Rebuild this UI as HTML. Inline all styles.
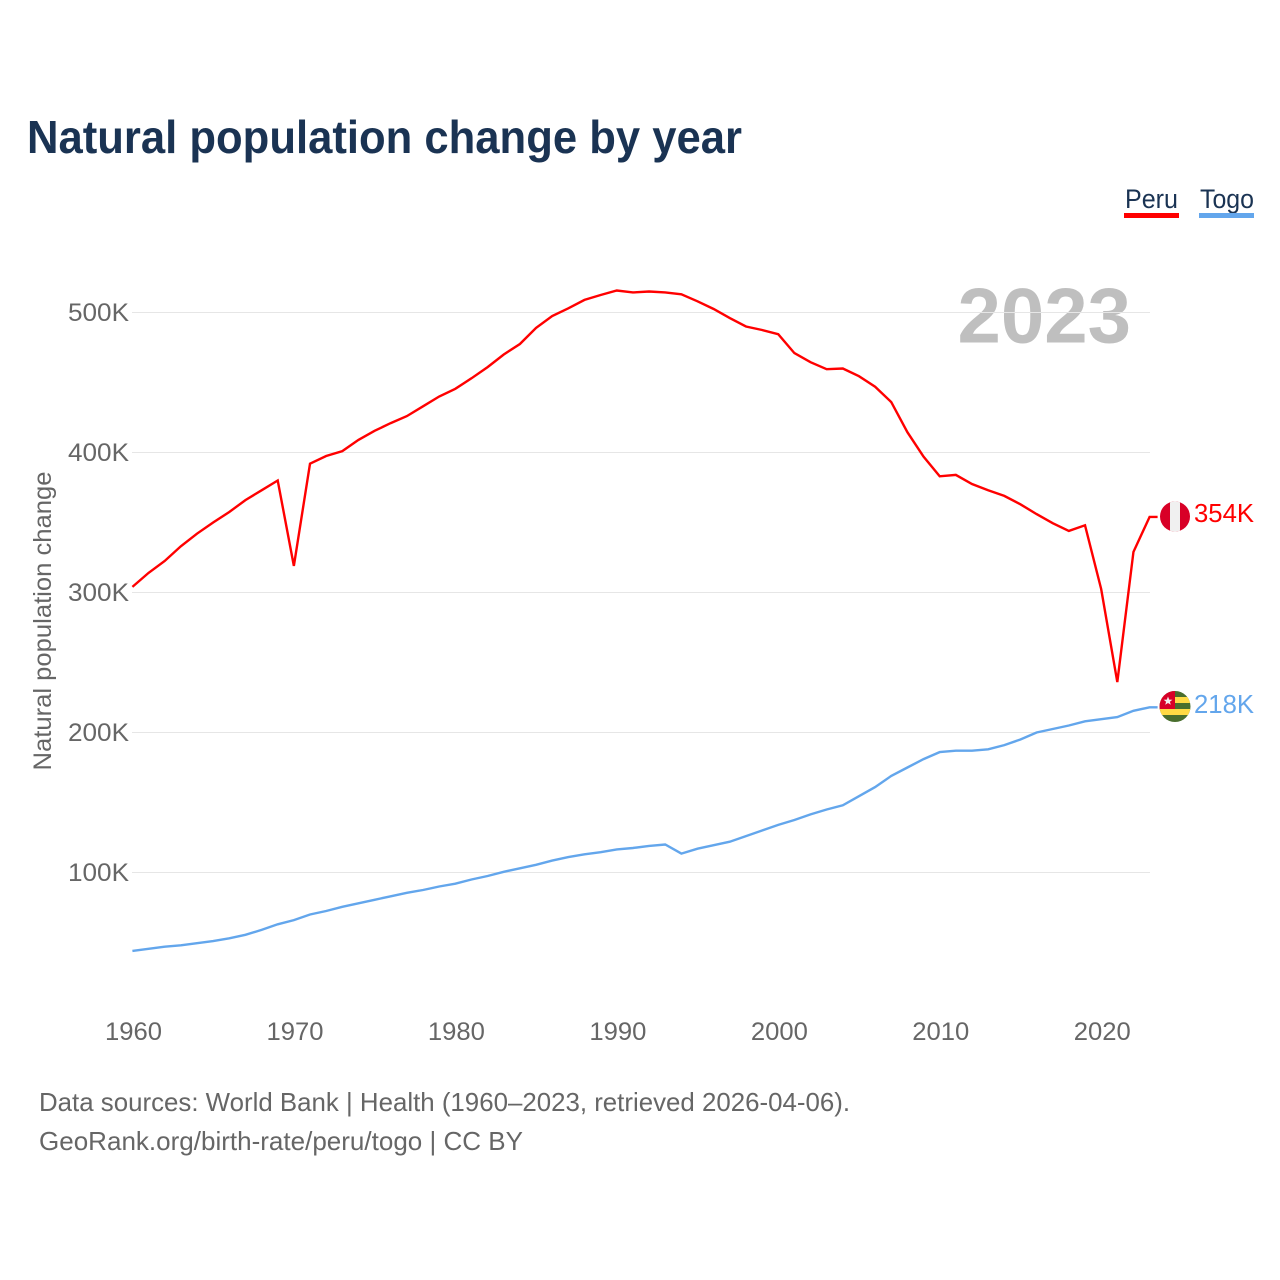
<!DOCTYPE html>
<html lang="en">
<head>
<meta charset="utf-8">
<title>Natural population change by year</title>
<style>
html,body{margin:0;padding:0;background:#fff;width:1280px;height:1280px;overflow:hidden}
svg{display:block}
text{font-family:"Liberation Sans",sans-serif}
</style>
</head>
<body>
<svg id="chart" xmlns="http://www.w3.org/2000/svg" width="1280" height="1280" viewBox="0 0 1280 1280">
  <defs>
    <clipPath id="peru-clip"><circle cx="1175" cy="516.5" r="15"/></clipPath>
    <clipPath id="togo-clip"><circle cx="1175" cy="706.5" r="15.5"/></clipPath>
  </defs>
  <rect x="0" y="0" width="1280" height="1280" fill="#ffffff"/>
  <text x="27" y="153" font-size="46" font-weight="700" fill="#1a3353" textLength="715" lengthAdjust="spacingAndGlyphs">Natural population change by year</text>

  <g>
    <g>
      <text x="1125" y="208" font-size="27" fill="#1a3353" textLength="53" lengthAdjust="spacingAndGlyphs">Peru</text>
      <rect x="1124" y="213" width="55" height="5" fill="#ff0000"/>
    </g>
    <g>
      <text x="1200" y="208" font-size="27" fill="#1a3353" textLength="54" lengthAdjust="spacingAndGlyphs">Togo</text>
      <rect x="1199" y="213" width="55" height="5" fill="#63a6ec"/>
    </g>
  </g>

  <text x="1131" y="342.5" text-anchor="end" font-size="78" font-weight="700" fill="#bfbfbf">2023</text>

  <g id="grid"></g>
  <g id="y-ticks"></g>
  <g id="x-ticks"></g>
  <text transform="translate(51,621) rotate(-90)" text-anchor="middle" font-size="25" fill="#666666" textLength="299" lengthAdjust="spacingAndGlyphs">Natural population change</text>
  <g id="series"></g>

  <g clip-path="url(#peru-clip)">
    <rect x="1160" y="501" width="30" height="31" fill="#d80027"/>
    <rect x="1170" y="501" width="10" height="31" fill="#f0f0f0"/>
  </g>
  <g clip-path="url(#togo-clip)">
    <rect x="1159" y="691" width="32" height="31" fill="#496e2d"/>
    <rect x="1159" y="697" width="32" height="6" fill="#ffda44"/>
    <rect x="1159" y="709" width="32" height="6" fill="#ffda44"/>
    <rect x="1159" y="691" width="16" height="18" fill="#d80027"/>
    <polygon points="1168,696.5 1169.2,699.6 1172.4,699.7 1169.9,701.7 1170.8,704.8 1168,703 1165.2,704.8 1166.1,701.7 1163.6,699.7 1166.8,699.6" fill="#f0f0f0"/>
  </g>
  <text id="peru-end" x="1194" y="522" font-size="26" fill="#ff0000" textLength="60" lengthAdjust="spacingAndGlyphs"></text>
  <text id="togo-end" x="1194" y="713" font-size="26" fill="#63a6ec" textLength="60" lengthAdjust="spacingAndGlyphs"></text>

  <text x="39" y="1111" font-size="26" fill="#666666" textLength="811" lengthAdjust="spacingAndGlyphs">Data sources: World Bank | Health (1960–2023, retrieved 2026-04-06).</text>
  <text x="39" y="1150" font-size="26" fill="#666666" textLength="484" lengthAdjust="spacingAndGlyphs">GeoRank.org/birth-rate/peru/togo | CC BY</text>
</svg>
<script>
const firstYear = 1960;
const xTickYears = [1960, 1970, 1980, 1990, 2000, 2010, 2020];
const yTickValues = [100, 200, 300, 400, 500];
const peruValues = [304,314,322.5,333,342,350,357.5,366,373,380,319,392,397.5,401,409,415.5,421,426,433,440,445.5,453,461,470,477.5,489,497.5,503,509,512.5,515.7,514.3,515,514.3,513,508,502.5,496,490,487.5,484.5,471,464.5,459.5,460,454.5,447,436,414.5,397,383,384,377.5,373,369,363,356,349.5,344,348,302.5,236,329,354];
const togoValues = [44,45.5,47,48,49.5,51,53,55.5,59,63,66,70,72.5,75.5,78,80.5,83,85.5,87.5,90,92,95,97.5,100.5,103,105.5,108.5,111,113,114.5,116.5,117.5,119,120,113.5,117,119.5,122,126,130,134,137.5,141.5,145,148,154.5,161,169,175,181,186,187,187,188,191,195,200,202.5,205,208,209.5,211,215.5,218];

const NS = 'http://www.w3.org/2000/svg';
const xScale = function (year) { return 132.4 + (year - 1960) * (1149.6 - 132.4) / 63; };
const yScale = function (v) { return 1012.5 - v * 1.4; };
const gridLayer = document.getElementById('grid');
const yLayer = document.getElementById('y-ticks');
const xLayer = document.getElementById('x-ticks');
const seriesLayer = document.getElementById('series');

yTickValues.forEach(function (v) {
  const line = document.createElementNS(NS, 'line');
  
  
  line.setAttribute('x1', 132);
  line.setAttribute('x2', 1150);
  line.setAttribute('y1', yScale(v));
  line.setAttribute('y2', yScale(v));
  line.setAttribute('stroke', '#e6e6e6');
  line.setAttribute('stroke-width', 1);
  gridLayer.appendChild(line);

  const label = document.createElementNS(NS, 'text');
  
  
  label.setAttribute('x', 129);
  label.setAttribute('y', yScale(v) + 8.5);
  label.setAttribute('text-anchor', 'end');
  label.setAttribute('font-size', 25);
  label.setAttribute('fill', '#666666');
  label.setAttribute('textLength', 61);
  label.setAttribute('lengthAdjust', 'spacingAndGlyphs');
  label.textContent = v + 'K';
  yLayer.appendChild(label);
});

xTickYears.forEach(function (yr) {
  const label = document.createElementNS(NS, 'text');
  
  
  label.setAttribute('x', xScale(yr) + 1.1);
  label.setAttribute('y', 1040);
  label.setAttribute('text-anchor', 'middle');
  label.setAttribute('font-size', 25);
  label.setAttribute('fill', '#666666');
  label.setAttribute('textLength', 57);
  label.setAttribute('lengthAdjust', 'spacingAndGlyphs');
  label.textContent = yr;
  xLayer.appendChild(label);
});

function seriesPath(values) {
  let d = '';
  values.forEach(function (v, i) {
    d += (i ? 'L' : 'M') + xScale(firstYear + i).toFixed(2) + ' ' + yScale(v).toFixed(2);
  });
  d += 'L' + (xScale(firstYear + values.length - 1) + 8).toFixed(2) + ' ' + yScale(values[values.length - 1]).toFixed(2);
  return d;
}

const togoLine = document.createElementNS(NS, 'path');


togoLine.setAttribute('d', seriesPath(togoValues));
togoLine.setAttribute('fill', 'none');
togoLine.setAttribute('stroke', '#63a6ec');
togoLine.setAttribute('stroke-width', 2.4);
seriesLayer.appendChild(togoLine);

const peruLine = document.createElementNS(NS, 'path');


peruLine.setAttribute('d', seriesPath(peruValues));
peruLine.setAttribute('fill', 'none');
peruLine.setAttribute('stroke', '#ff0000');
peruLine.setAttribute('stroke-width', 2.4);
seriesLayer.appendChild(peruLine);

const peruEnd = document.getElementById('peru-end');
peruEnd.textContent = Math.round(peruValues[peruValues.length - 1]) + 'K';
const togoEnd = document.getElementById('togo-end');
togoEnd.textContent = Math.round(togoValues[togoValues.length - 1]) + 'K';
</script>
</body>
</html>
